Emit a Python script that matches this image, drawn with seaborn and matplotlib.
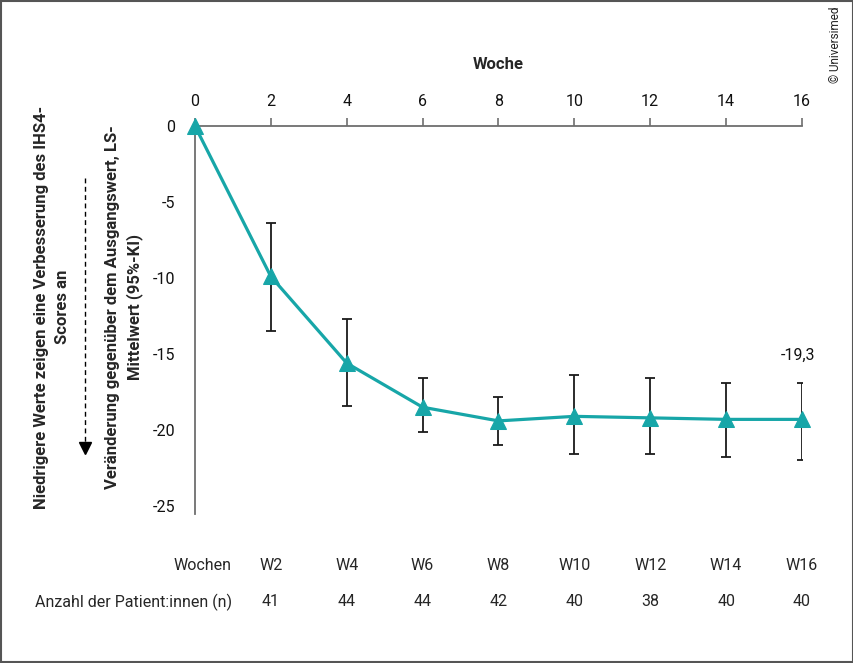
import matplotlib
matplotlib.use("Agg")
import matplotlib.pyplot as plt
import matplotlib.transforms as mtransforms
from matplotlib.lines import Line2D
import pandas as pd
import seaborn as sns

# Daten
woche = [0, 2, 4, 6, 8, 10, 12, 14, 16]
ls_mittel = [0.0, -9.9, -15.6, -18.5, -19.4, -19.1, -19.2, -19.3, -19.3]
ki_oben = [0.0, -6.4, -12.7, -16.6, -17.8, -16.4, -16.6, -16.9, -16.9]
ki_unten = [0.0, -13.5, -18.4, -20.1, -21.0, -21.6, -21.6, -21.8, -22.0]
tabelle_wochen = ["W2", "W4", "W6", "W8", "W10", "W12", "W14", "W16"]
tabelle_n = [41, 44, 44, 42, 40, 38, 40, 40]
x_ticks = [0, 2, 4, 6, 8, 10, 12, 14, 16]
y_ticks = [0, -5, -10, -15, -20, -25]

TEAL = "#17a6a8"
GRAU = "#6e6e6e"

sns.set_style("white")
plt.rcParams["font.family"] = ["Roboto", "DejaVu Sans"]

df = pd.DataFrame({"woche": woche, "wert": ls_mittel})

fig = plt.figure(figsize=(8.54, 6.63), dpi=100)
ax = fig.add_axes([0.2283, 0.2253, 0.9391 - 0.2283, 0.80995 - 0.2253])

# Fehlerbalken (95%-KI)
err_unten = [m - u for m, u in zip(ls_mittel, ki_unten)]
err_oben = [o - m for m, o in zip(ls_mittel, ki_oben)]
pts = [i for i in range(len(woche)) if woche[i] > 0]
ax.errorbar([woche[i] for i in pts], [ls_mittel[i] for i in pts],
            yerr=[[err_unten[i] for i in pts], [err_oben[i] for i in pts]],
            fmt="none", ecolor="#1a1a1a", elinewidth=1.3, capsize=3.5,
            capthick=1.3, zorder=2)

sns.lineplot(data=df, x="woche", y="wert", color=TEAL, linewidth=2.3,
             marker="^", markersize=11, markeredgecolor=TEAL, ax=ax, zorder=3,
             clip_on=False)

ax.set_xlim(0, 16)
ax.set_ylim(-25.5, 0)
ax.set_xticks(x_ticks)
ax.set_yticks(y_ticks)
ax.set_yticklabels([str(v) for v in y_ticks])
ax.xaxis.tick_top()
ax.xaxis.set_label_position("top")
ax.set_xlabel("Woche", fontsize=12, fontweight="bold", labelpad=18)
ax.set_ylabel("")
ax.tick_params(axis="both", direction="out", length=6, width=1.2, color=GRAU,
               labelsize=11.5, labelcolor="#111111")
ax.tick_params(axis="x", pad=6)
ax.tick_params(axis="y", pad=8)
for s in ["bottom", "right"]:
    ax.spines[s].set_visible(False)
for s in ["top", "left"]:
    ax.spines[s].set_color(GRAU)
    ax.spines[s].set_linewidth(1.3)

# Wert am Ende
ax.text(15.9, -15.1, "-19,3", ha="center", va="center", fontsize=11.5,
        color="#111111")

# Y-Achsentitel
fig.text(52 / 854, 1 - 307 / 663,
         "Niedrigere Werte zeigen eine Verbesserung des IHS4-\nScores an",
         rotation=90, ha="center", va="center", fontsize=12,
         fontweight="bold", linespacing=1.5)
fig.text(124 / 854, 1 - 307 / 663,
         "Veränderung gegenüber dem Ausgangswert, LS-\nMittelwert (95%-KI)",
         rotation=90, ha="center", va="center", fontsize=12,
         fontweight="bold", linespacing=1.5)

# gestrichelter Pfeil nach unten
fig.add_artist(Line2D([85 / 854, 85 / 854], [1 - 178 / 663, 1 - 444 / 663],
                      transform=fig.transFigure, color="black",
                      linewidth=1.0, linestyle=(0, (3.5, 2.5))))
fig.add_artist(Line2D([85 / 854], [1 - 448 / 663], transform=fig.transFigure,
                      marker="v", markersize=9, color="black",
                      linestyle="none"))

# Tabelle unter dem Diagramm
trans = mtransforms.blended_transform_factory(ax.transData, fig.transFigure)
y_row1 = 1 - 566 / 663
y_row2 = 1 - 602 / 663
fig.text(232 / 854, y_row1, "Wochen", ha="right", va="center", fontsize=11.5)
fig.text(232 / 854, y_row2, "Anzahl der Patient:innen (n)", ha="right",
         va="center", fontsize=11.5)
for xw, lab, n in zip(woche[1:], tabelle_wochen, tabelle_n):
    ax.text(xw, y_row1, lab, transform=trans, ha="center", va="center",
            fontsize=11.5)
    ax.text(xw, y_row2, str(n), transform=trans, ha="center", va="center",
            fontsize=11.5)

# Copyright
fig.text(836 / 854, 1 - 45 / 663, "© Universimed", rotation=90, ha="center",
         va="center", fontsize=8.5, color="#222222")

# Rahmen
fig.add_artist(matplotlib.patches.Rectangle((0.001, 0.001), 0.998, 0.998,
                                            transform=fig.transFigure,
                                            fill=False, edgecolor="#555555",
                                            linewidth=1.5))

fig.savefig("out.png", dpi=100)
